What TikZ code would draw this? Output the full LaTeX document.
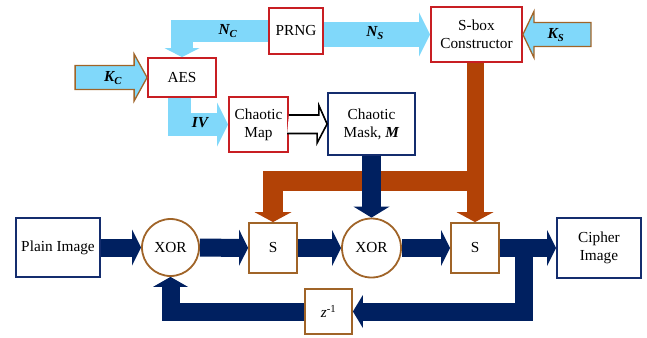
\documentclass[tikz,border=0pt]{standalone}
\usepackage{fontspec}
\setmainfont{Liberation Serif}
\usetikzlibrary{arrows.meta,calc}

\definecolor{skyblue}{RGB}{128,216,250}
\definecolor{navy}{RGB}{0,32,96}
\definecolor{rust}{RGB}{178,66,6}
\definecolor{boxred}{RGB}{200,30,35}
\definecolor{boxbrown}{RGB}{160,100,40}
\definecolor{boxnavy}{RGB}{20,45,110}

\tikzset{
  redbox/.style={draw=boxred, line width=1.8pt, fill=white, inner sep=0pt, align=center},
  navybox/.style={draw=boxnavy, line width=1.8pt, fill=white, inner sep=0pt, align=center},
  brownbox/.style={draw=boxbrown, line width=1.8pt, fill=white, inner sep=0pt, align=center},
  xorgate/.style={circle, draw=boxbrown, line width=1.8pt, fill=white, inner sep=0pt, minimum size=58pt},
  bluearrow/.style={draw=skyblue, line width=22pt, -{Triangle[length=10pt,width=42pt,line width=0pt]}},
  navyarrow/.style={draw=navy, line width=18pt, -{Triangle[length=9pt,width=36pt,line width=0pt]}},
  rustarrow/.style={draw=rust, line width=20pt, -{Triangle[length=10pt,width=37pt,line width=0pt]}},
  keyarrow/.style={draw=boxbrown, line width=1.3pt, fill=skyblue},
  hollow/.style={draw=black, line width=1.6pt, fill=white},
  lbl/.style={font=\fontsize{15.3}{18}\selectfont\bfseries\itshape}
}

\begin{document}
\begin{tikzpicture}[x=1pt, y=-1pt, font=\fontsize{15.3}{18}\selectfont]
\useasboundingbox (0,0) rectangle (647,337);

% top part
\node [redbox, minimum width=54pt, minimum height=46pt] (prng) at (296,31) {PRNG};
\node [redbox, minimum width=68pt, minimum height=39pt] (aes) at (182,77.5) {AES};
\node [redbox, minimum width=59pt, minimum height=55pt] (cmap) at (258.5,124.5) {Chaotic\\Map};
\node [navybox, minimum width=87pt, minimum height=62pt] (mask) at (371.5,124) {Chaotic\\Mask, \textbf{\textit{M}}};
\node [redbox, minimum width=91pt, minimum height=55pt] (sbox) at (476.5,34.5) {S-box\\Constructor};

% bottom part
\node [navybox, minimum width=84pt, minimum height=59pt] (plain) at (58,247.5) {Plain Image};
\node [xorgate, minimum size=57pt] (xor1) at (170.5,247.5) {XOR};
\node [brownbox, minimum width=48pt, minimum height=50pt] (s1) at (273,248) {S};
\node [xorgate, minimum size=59pt] (xor2) at (371.5,248) {XOR};
\node [brownbox, minimum width=48pt, minimum height=50pt] (s2) at (475,248) {S};
\node [navybox, minimum width=84pt, minimum height=60pt] (cipher) at (599,248) {Cipher\\Image};
\node [brownbox, minimum width=47pt, minimum height=45pt] (zinv) at (328.5,311.5) {\textit{z}\textsuperscript{-1}};

\coordinate (split) at (524,248);
\coordinate (bj) at (475.5,180.5);

% key arrows
\draw [bluearrow, line width=22pt, -{Triangle[length=9pt,width=35pt,line width=0pt]}] (prng.west) -| (aes.north);
\draw [bluearrow, line width=25pt, -{Triangle[length=11pt,width=44pt,line width=0pt]}] (prng.east |- sbox.west) -- (sbox.west);
\draw [bluearrow, line width=22.5pt, -{Triangle[length=11pt,width=44pt,line width=0pt]}] ([xshift=-2.5pt]aes.south) |- (cmap.west);
\draw [keyarrow] (aes.west) -- ++(-13,-23.5) -- ++(0,11.5) -- ++(-59,0) -- ++(0,24) -- ++(59,0) -- ++(0,11.5) -- cycle;
\draw [keyarrow] (sbox.east) -- ++(11,-23) -- ++(0,11) -- ++(57,0) -- ++(0,24) -- ++(-57,0) -- ++(0,11) -- cycle;
\draw [hollow] ($(cmap.east)+(0,-9.5)$) -- ++(30,0) -- ++(0,-9.5) -- (mask.west) -- ++(-10,19) -- ++(0,-9.5) -- ++(-30,0);

% s-box feed
\draw [rustarrow] (bj) -| (s1.north);
\draw [rustarrow, line width=17pt] (sbox.south -| s2.north) -- (s2.north);

% data path
\draw [navyarrow] (plain) -- (xor1);
\draw [navyarrow] (xor1) -- (s1);
\draw [navyarrow] (s1) -- (xor2);
\draw [navyarrow] (xor2) -- (s2);
\draw [navyarrow] (s2) -- (cipher);
\draw [navyarrow, line width=19pt, -{Triangle[length=11pt,width=36pt,line width=0pt]}] (mask.south) -- (xor2.north);
\draw [navyarrow, -{Triangle[length=10pt,width=33pt,line width=0pt]}] (split) |- (zinv.east);
\draw [navyarrow, -{Triangle[length=10pt,width=35pt,line width=0pt]}] (zinv.west) -| (xor1.south);

% labels
\node [lbl] (lnc) at (228,31) {N\textsubscript{C}};
\node [lbl] (lns) at (375,33) {N\textsubscript{S}};
\node [lbl] (lks) at (556,35) {K\textsubscript{S}};
\node [lbl] (lkc) at (113,78) {K\textsubscript{C}};
\node [lbl] (liv) at (200,123) {IV};
\end{tikzpicture}
\end{document}
